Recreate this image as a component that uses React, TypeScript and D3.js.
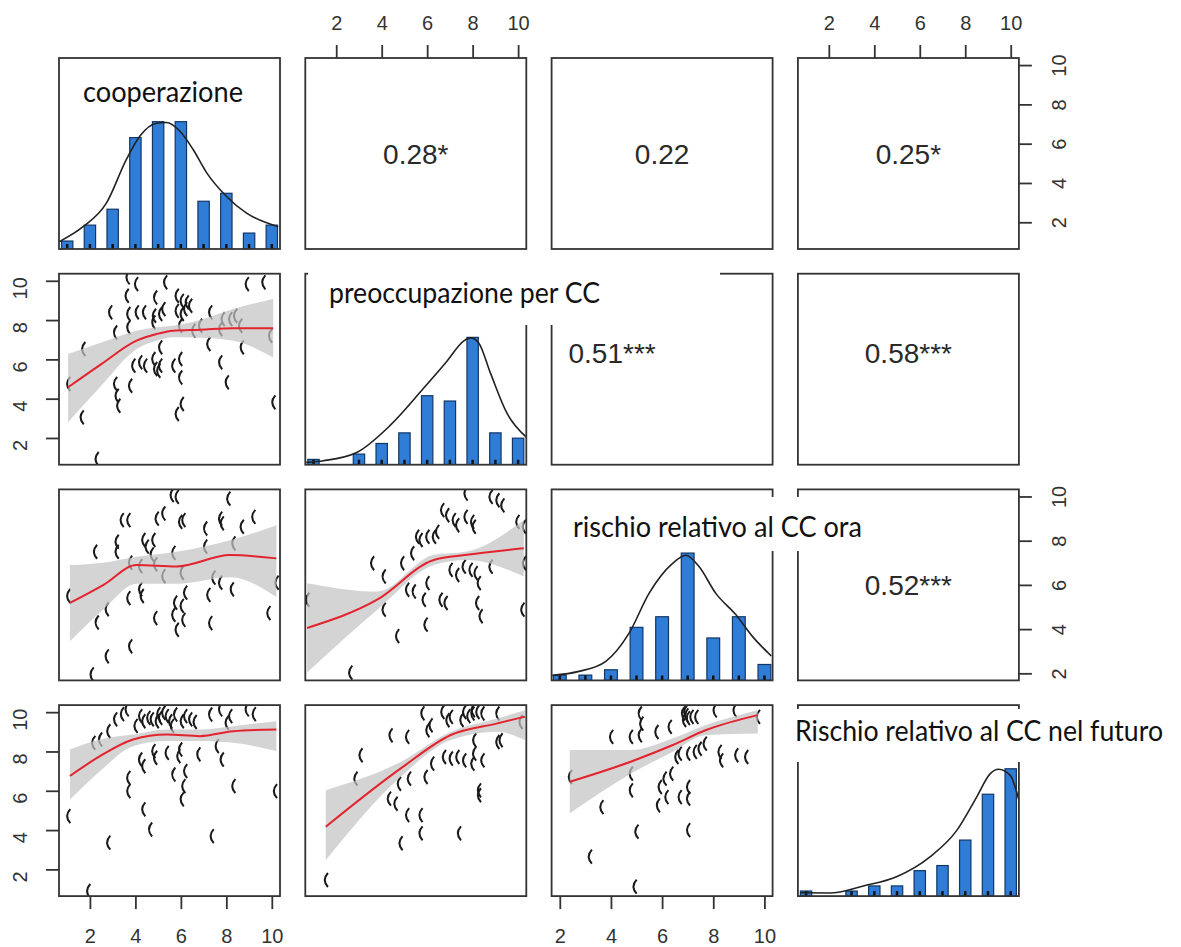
import React, { useEffect, useRef } from "react";
import * as d3 from "d3";

// variable names and ranges
const varNames = [
  "cooperazione",
  "preoccupazione per CC",
  "rischio relativo al CC ora",
  "Rischio relativo al CC nel futuro",
];
const varRanges: [number, number][] = [
  [1, 10],
  [1, 10],
  [2, 10],
  [1, 10],
];
const tickValues = [2, 4, 6, 8, 10];

// histogram counts on the diagonal (value -> count)
const histValues = [1, 2, 3, 4, 5, 6, 7, 8, 9, 10];
const histCoop = [1, 3, 5, 14, 16, 16, 6, 7, 2, 3];
const histPreocc = [1, 0, 2, 4, 6, 13, 12, 24, 6, 5];
const histOra = [0, 1, 1, 2, 10, 12, 24, 8, 12, 3];
const histFuturo = [1, 0, 1, 2, 2, 5, 6, 11, 20, 25];

// density curves, same units as the counts
const densCoop = [[0.65, 0.92], [1.7, 2.8], [2.73, 5.8], [3.61, 11.3], [4.2, 14.2], [4.93, 15.8], [5.37, 15.9], [5.96, 14.8], [6.54, 12.5], [7.13, 9.6], [8.01, 6.6], [8.89, 4.5], [10.28, 2.8]];
const densPreocc = [[0.68, 0.44], [1.44, 0.76], [2.9, 2.3], [4.37, 7.4], [5.84, 14.4], [6.87, 19.5], [7.6, 23.3], [7.9, 23.9], [8.26, 23.0], [8.78, 17.3], [9.51, 9.7], [10.36, 5.2]];
const densOra = [[1.71, 0.94], [2.75, 1.7], [3.8, 3.6], [4.71, 8.9], [5.49, 16.4], [6.4, 22.0], [6.93, 23.6], [7.45, 21.4], [8.1, 16.4], [8.88, 12.4], [9.53, 8.3], [10.27, 4.6]];
const densFuturo = [[0.76, 0.65], [2.05, 0.6], [3.52, 2.0], [4.98, 3.8], [6.45, 7.7], [7.63, 12.9], [8.51, 19.5], [9.09, 24.0], [9.46, 24.9], [9.98, 23.7], [10.36, 18.8]];

// correlations in the upper panels (row 2 text sits off-centre in the picture)
const corrCells = [
  { row: 0, col: 1, text: "0.28*", dx: 0, dy: 0 },
  { row: 0, col: 2, text: "0.22", dx: 0, dy: 0 },
  { row: 0, col: 3, text: "0.25*", dx: 0, dy: 0 },
  { row: 1, col: 2, text: "0.51***", dx: -50, dy: -16 },
  { row: 1, col: 3, text: "0.58***", dx: 0, dy: -16 },
  { row: 2, col: 3, text: "0.52***", dx: 0, dy: 0 },
];

// jittered scatter points [x, y]
const scatter21 = [[3.65, 10.17], [4.02, 9.83], [5.3, 9.92], [8.89, 9.83], [9.62, 9.92], [3.61, 9.24], [4.86, 9.15], [5.81, 9.24], [6.03, 8.98], [6.25, 8.9], [6.4, 8.73], [2.88, 8.39], [3.68, 8.31], [4.05, 8.39], [4.37, 8.39], [4.81, 8.22], [5.08, 8.31], [5.22, 8.56], [5.81, 8.47], [6.03, 8.31], [6.18, 8.56], [7.28, 8.39], [7.83, 8.05], [8.38, 8.22], [8.16, 8.05], [3.1, 7.37], [3.68, 7.63], [4.78, 7.88], [5.96, 7.71], [6.84, 7.71], [6.54, 7.46], [7.72, 7.54], [8.6, 7.71], [9.92, 7.2], [1.7, 6.53], [5.08, 6.61], [7.2, 6.78], [8.67, 6.61], [3.9, 5.68], [4.2, 5.85], [4.42, 5.68], [4.78, 6.02], [4.86, 5.51], [5.08, 5.68], [5.66, 5.68], [5.96, 6.02], [7.72, 5.85], [3.1, 4.75], [3.76, 4.66], [5.96, 5.08], [8.01, 4.83], [5.0, 5.42], [3.17, 4.15], [3.24, 3.64], [6.03, 3.73], [5.81, 3.22], [10.06, 3.81], [1.63, 3.05], [2.29, 0.93], [1.04, 4.75]];
const scatter31 = [[5.59, 10.06], [5.81, 9.98], [8.08, 9.9], [3.39, 8.93], [3.68, 8.93], [4.93, 9.0], [5.22, 9.23], [5.96, 8.85], [6.1, 8.93], [7.06, 8.55], [7.72, 9.0], [7.79, 8.78], [8.67, 8.63], [9.18, 9.08], [2.22, 7.5], [3.17, 7.95], [3.17, 7.5], [4.34, 8.03], [4.49, 7.73], [4.78, 8.03], [4.71, 7.38], [5.66, 7.45], [7.06, 7.73], [8.3, 7.88], [3.76, 7.0], [4.2, 6.85], [4.86, 6.93], [5.22, 6.4], [6.03, 6.55], [7.42, 6.33], [7.72, 6.1], [10.2, 6.1], [4.2, 5.8], [3.68, 5.4], [4.27, 5.5], [6.18, 5.65], [5.74, 5.2], [6.03, 5.05], [7.2, 5.55], [8.23, 5.8], [1.04, 5.5], [2.73, 4.9], [2.29, 4.3], [4.86, 4.5], [5.66, 4.65], [6.1, 4.42], [5.81, 3.97], [7.28, 4.27], [9.84, 4.72], [2.73, 2.77], [3.76, 3.22], [2.07, 1.95]];
const scatter41 = [[3.1, 9.63], [3.61, 10.14], [4.2, 9.8], [4.34, 9.54], [4.56, 9.71], [4.71, 9.63], [4.93, 9.54], [5.08, 9.71], [5.22, 9.97], [5.37, 9.8], [5.52, 9.54], [5.74, 9.88], [6.03, 9.54], [6.18, 9.8], [6.4, 9.63], [7.28, 9.88], [7.72, 10.14], [8.16, 9.8], [8.89, 10.14], [8.01, 9.46], [4.0, 9.3], [5.0, 9.9], [5.6, 9.3], [6.6, 9.5], [3.4, 9.9], [9.2, 9.9], [2.44, 8.61], [2.8, 9.03], [2.14, 8.44], [4.2, 7.59], [4.34, 7.25], [4.78, 8.02], [4.86, 7.68], [5.37, 7.93], [5.88, 7.76], [5.96, 8.1], [6.76, 7.85], [7.79, 7.59], [7.57, 8.27], [3.68, 6.66], [3.68, 5.98], [5.66, 6.83], [6.18, 7.0], [6.1, 6.24], [6.03, 5.56], [8.3, 6.24], [10.13, 5.98], [4.34, 5.05], [1.04, 4.71], [4.64, 4.03], [7.35, 3.69], [2.8, 3.36], [1.92, 0.9]];
const scatter32 = [[7.68, 10.13], [8.78, 9.98], [9.08, 9.83], [9.3, 9.6], [9.96, 8.85], [10.25, 8.63], [6.65, 9.38], [6.87, 9.15], [7.16, 8.93], [7.31, 8.7], [7.68, 9.08], [7.97, 8.85], [8.04, 8.63], [5.55, 8.18], [5.7, 8.03], [6.0, 8.18], [6.29, 8.18], [6.43, 8.4], [5.33, 7.43], [4.89, 6.98], [3.57, 6.98], [4.08, 6.38], [7.02, 6.68], [7.31, 6.45], [7.6, 6.83], [7.9, 6.68], [8.12, 6.53], [8.26, 6.08], [8.78, 6.83], [10.25, 6.98], [5.11, 5.78], [5.4, 5.7], [6.0, 6.08], [5.84, 5.33], [6.58, 5.33], [6.8, 5.18], [8.19, 5.18], [8.34, 4.58], [4.08, 4.88], [0.72, 5.33], [5.92, 4.2], [4.67, 3.68], [2.61, 2.03], [10.18, 4.88]];
const scatter42 = [[5.78, 9.94], [6.66, 10.01], [7.03, 9.76], [7.62, 10.01], [7.98, 9.93], [8.2, 10.01], [8.42, 9.93], [9.08, 9.93], [7.8, 9.8], [8.0, 10.1], [7.5, 9.6], [10.1, 9.5], [6.0, 9.08], [6.14, 9.33], [4.38, 8.82], [5.11, 8.74], [6.88, 9.59], [8.06, 8.57], [9.08, 8.48], [9.22, 8.57], [3.06, 7.81], [6.21, 7.38], [6.73, 7.72], [7.03, 7.64], [7.32, 7.72], [7.62, 7.55], [8.06, 7.89], [8.42, 7.55], [7.98, 7.38], [5.92, 6.7], [5.19, 6.62], [2.84, 6.62], [4.75, 6.36], [4.31, 5.6], [4.6, 5.34], [8.27, 6.02], [8.27, 5.77], [5.11, 4.76], [5.7, 4.76], [5.7, 3.83], [7.39, 3.83], [4.82, 3.33], [1.54, 1.46]];
const scatter43 = [[5.12, 9.93], [5.18, 9.42], [5.12, 8.82], [5.77, 8.99], [6.29, 9.25], [6.81, 9.93], [6.94, 9.84], [7.14, 9.76], [7.33, 9.76], [6.9, 10.0], [7.0, 9.7], [6.85, 9.6], [8.05, 10.09], [8.83, 10.09], [4.0, 8.74], [4.77, 8.74], [6.55, 7.72], [6.68, 7.89], [7.01, 7.89], [7.27, 7.98], [7.46, 8.14], [7.66, 8.4], [8.24, 7.98], [8.3, 7.55], [8.89, 7.81], [9.28, 7.72], [6.35, 6.87], [6.09, 6.62], [5.9, 6.19], [6.16, 5.68], [6.68, 5.68], [7.01, 6.19], [7.01, 5.6], [5.83, 5.26], [4.77, 6.02], [3.62, 5.17], [2.39, 6.7], [4.99, 3.92], [7.01, 4.0], [3.17, 2.65], [4.92, 1.12], [9.74, 9.76], [4.77, 6.87]];

// loess fits: [x, fit, lower, upper]
const loess21 = [[1.04, 4.58, 2.8, 6.27], [2.5, 5.76, 4.66, 6.86], [4.05, 6.95, 6.53, 7.46], [4.93, 7.29, 6.95, 7.63], [5.66, 7.46, 7.12, 7.71], [6.84, 7.51, 7.1, 8.0], [8.3, 7.59, 6.95, 8.56], [10.06, 7.59, 6.1, 9.07]];
const loess31 = [[1.12, 5.18, 3.45, 6.9], [2.6, 6.0, 4.9, 7.0], [4.05, 6.9, 6.05, 7.27], [5.81, 6.83, 6.05, 7.5], [8.16, 7.35, 6.35, 8.02], [10.2, 7.2, 5.45, 8.7]];
const loess41 = [[1.12, 6.75, 5.56, 8.1], [2.44, 7.76, 7.0, 8.61], [3.9, 8.61, 8.27, 8.86], [5.37, 8.86, 8.53, 9.12], [6.84, 8.78, 8.53, 9.12], [8.3, 9.03, 8.44, 9.29], [10.2, 9.12, 8.02, 9.54]];
const loess32 = [[0.72, 4.05, 2.04, 6.08], [3.8, 5.33, 4.87, 5.7], [6.29, 7.13, 6.9, 7.36], [7.75, 7.36, 7.13, 7.51], [10.25, 7.66, 6.38, 8.94]];
const loess42 = [[1.54, 4.17, 2.47, 6.03], [4.84, 7.14, 6.72, 7.47], [7.04, 8.84, 8.58, 9.0], [9.09, 9.43, 9.0, 9.68], [10.3, 9.77, 8.58, 10.1]];
const loess43 = [[2.39, 6.46, 4.85, 8.07], [4.77, 7.48, 6.87, 8.07], [6.42, 8.33, 7.99, 8.67], [7.72, 9.09, 8.84, 9.35], [9.74, 9.85, 8.92, 10.1]];

const histograms = [
  { idx: 0, counts: histCoop, dens: densCoop },
  { idx: 1, counts: histPreocc, dens: densPreocc },
  { idx: 2, counts: histOra, dens: densOra },
  { idx: 3, counts: histFuturo, dens: densFuturo },
];

const scatters = [
  { row: 1, col: 0, pts: scatter21, fit: loess21 },
  { row: 2, col: 0, pts: scatter31, fit: loess31 },
  { row: 3, col: 0, pts: scatter41, fit: loess41 },
  { row: 2, col: 1, pts: scatter32, fit: loess32 },
  { row: 3, col: 1, pts: scatter42, fit: loess42 },
  { row: 3, col: 2, pts: scatter43, fit: loess43 },
];

// layout
const W = 1181;
const H = 947;
const LEFT0 = 59;
const TOP0 = 58;
const STEP_X = 246.3;
const STEP_Y = 215.7;
const PW = 221;
const PH = 191;

// white label boxes pasted over the plot
const labelBoxes = [
  { x: 76, y: 72, w: 178, h: 40, tx: 83, ty: 102, len: 160 },
  { x: 308, y: 263, w: 412, h: 62, tx: 329, ty: 303, len: 271 },
  { x: 554, y: 497, w: 316, h: 54, tx: 573, ty: 537, len: 289 },
  { x: 790, y: 709, w: 386, h: 53, tx: 795, ty: 741, len: 368 },
];

const colLeft = (j: number) => LEFT0 + j * STEP_X;
const rowTop = (i: number) => TOP0 + i * STEP_Y;

const App = () => {
  const svgRef = useRef<SVGSVGElement>(null);

  useEffect(() => {
    const svg = d3.select(svgRef.current);
    svg.selectAll("*").remove();

    const xScales = varRanges.map(([lo, hi], j) => {
      const pad = (hi - lo) * 0.04;
      return d3.scaleLinear().domain([lo - pad, hi + pad]).range([colLeft(j), colLeft(j) + PW]);
    });
    const yScales = varRanges.map(([lo, hi], i) => {
      const pad = (hi - lo) * 0.04;
      return d3.scaleLinear().domain([lo - pad, hi + pad]).range([rowTop(i) + PH, rowTop(i)]);
    });

    const defs = svg.append("defs");
    for (let i = 0; i < 4; i++) {
      for (let j = 0; j < 4; j++) {
        defs
          .append("clipPath")
          .attr("id", `clip-${i}-${j}`)
          .append("rect")
          .attr("x", colLeft(j))
          .attr("y", rowTop(i))
          .attr("width", PW)
          .attr("height", PH);
      }
    }

    // scatter panels
    scatters.forEach(({ row, col, pts, fit }) => {
      const x = xScales[col];
      const y = yScales[row];
      const g = svg.append("g").attr("clip-path", `url(#clip-${row}-${col})`);

      g.selectAll("path.pt")
        .data(pts)
        .join("path")
        .attr("class", "pt")
        .attr("d", (d) => {
          const px = x(d[0]);
          const py = y(d[1]);
          return `M${px + 2.2},${py - 7} Q${px - 4.2},${py} ${px + 2.2},${py + 7}`;
        })
        .attr("fill", "none")
        .attr("stroke", "#1a1a1a")
        .attr("stroke-width", 2);

      const band = d3
        .area<number[]>()
        .x((d) => x(d[0]))
        .y0((d) => y(d[2]))
        .y1((d) => y(d[3]))
        .curve(d3.curveMonotoneX);
      g.append("path").attr("d", band(fit)).attr("fill", "#c4c4c4").attr("opacity", 0.72);

      const line = d3
        .line<number[]>()
        .x((d) => x(d[0]))
        .y((d) => y(d[1]))
        .curve(d3.curveMonotoneX);
      g.append("path")
        .attr("d", line(fit))
        .attr("fill", "none")
        .attr("stroke", "#e3232e")
        .attr("stroke-width", 2);
    });

    // histograms on the diagonal
    histograms.forEach(({ idx, counts, dens }) => {
      const x = xScales[idx];
      const bottom = rowTop(idx) + PH;
      const maxC = d3.max(counts) as number;
      const y = d3.scaleLinear().domain([0, maxC * 1.5]).range([bottom, rowTop(idx)]);
      const g = svg.append("g").attr("clip-path", `url(#clip-${idx}-${idx})`);
      const bars = histValues.map((v, k) => ({ v, c: counts[k] })).filter((d) => d.c > 0);

      g.selectAll("rect.bar")
        .data(bars)
        .join("rect")
        .attr("class", "bar")
        .attr("x", (d) => x(d.v - 0.25))
        .attr("width", (d) => x(d.v + 0.25) - x(d.v - 0.25))
        .attr("y", (d) => y(d.c))
        .attr("height", (d) => bottom - y(d.c))
        .attr("fill", "#2f7dd6")
        .attr("stroke", "#123766")
        .attr("stroke-width", 1.2);

      g.selectAll("line.rug")
        .data(bars)
        .join("line")
        .attr("class", "rug")
        .attr("x1", (d) => x(d.v))
        .attr("x2", (d) => x(d.v))
        .attr("y1", bottom)
        .attr("y2", bottom - 5)
        .attr("stroke", "#111")
        .attr("stroke-width", 2.5);

      const line = d3
        .line<number[]>()
        .x((d) => x(d[0]))
        .y((d) => y(d[1]))
        .curve(d3.curveMonotoneX);
      g.append("path")
        .attr("d", line(dens))
        .attr("fill", "none")
        .attr("stroke", "#222")
        .attr("stroke-width", 1.6);
    });

    // correlation text
    svg
      .selectAll("text.corr")
      .data(corrCells)
      .join("text")
      .attr("class", "corr")
      .attr("x", (d) => colLeft(d.col) + PW / 2 + d.dx)
      .attr("y", (d) => rowTop(d.row) + PH / 2 + d.dy)
      .attr("dy", "0.36em")
      .attr("text-anchor", "middle")
      .attr("font-family", "'Liberation Sans', Arial, sans-serif")
      .attr("font-size", 28)
      .attr("fill", "#2a2a2a")
      .text((d) => d.text);

    // panel borders
    for (let i = 0; i < 4; i++) {
      for (let j = 0; j < 4; j++) {
        svg
          .append("rect")
          .attr("x", colLeft(j))
          .attr("y", rowTop(i))
          .attr("width", PW)
          .attr("height", PH)
          .attr("fill", "none")
          .attr("stroke", "#333")
          .attr("stroke-width", 1.8);
      }
    }

    // axes
    const styleAxis = (g: d3.Selection<SVGGElement, unknown, null, undefined>) => {
      g.select(".domain").remove();
      g.selectAll(".tick line").attr("stroke", "#333").attr("stroke-width", 1.8);
      g.selectAll(".tick text")
        .attr("font-family", "'Liberation Sans', Arial, sans-serif")
        .attr("font-size", 20)
        .attr("fill", "#333");
    };
    [1, 3].forEach((j) => {
      const g = svg
        .append("g")
        .attr("transform", `translate(0,${rowTop(0)})`)
        .call(d3.axisTop(xScales[j]).tickValues(tickValues).tickSize(13).tickPadding(15));
      styleAxis(g);
    });
    [0, 2].forEach((j) => {
      const g = svg
        .append("g")
        .attr("transform", `translate(0,${rowTop(3) + PH})`)
        .call(d3.axisBottom(xScales[j]).tickValues(tickValues).tickSize(13).tickPadding(20));
      styleAxis(g);
    });
    [1, 3].forEach((i) => {
      const g = svg
        .append("g")
        .attr("transform", `translate(${colLeft(0)},0)`)
        .call(d3.axisLeft(yScales[i]).tickValues(tickValues).tickSize(13));
      styleAxis(g);
      g.selectAll(".tick text")
        .attr("x", null)
        .attr("dy", null)
        .attr("text-anchor", "middle")
        .attr("transform", "translate(-32,7) rotate(-90)");
    });
    [0, 2].forEach((i) => {
      const g = svg
        .append("g")
        .attr("transform", `translate(${colLeft(3) + PW},0)`)
        .call(d3.axisRight(yScales[i]).tickValues(tickValues).tickSize(13));
      styleAxis(g);
      g.selectAll(".tick text")
        .attr("x", null)
        .attr("dy", null)
        .attr("text-anchor", "middle")
        .attr("transform", "translate(47,0) rotate(-90)");
    });

    // pasted variable labels
    labelBoxes.forEach((b, k) => {
      svg
        .append("rect")
        .attr("x", b.x)
        .attr("y", b.y)
        .attr("width", b.w)
        .attr("height", b.h)
        .attr("fill", "#fff");
      svg
        .append("text")
        .attr("x", b.tx)
        .attr("y", b.ty)
        .attr("font-family", "Lato, 'Open Sans', sans-serif")
        .attr("font-size", 28)
        .attr("fill", "#111")
        .attr("textLength", b.len)
        .attr("lengthAdjust", "spacingAndGlyphs")
        .text(varNames[k]);
    });
  }, []);

  return (
    <svg
      ref={svgRef}
      width={W}
      height={H}
      xmlns="http://www.w3.org/2000/svg"
      style={{ position: "absolute", left: 0, top: 0, background: "#fff" }}
    ></svg>
  );
};

export default App;
